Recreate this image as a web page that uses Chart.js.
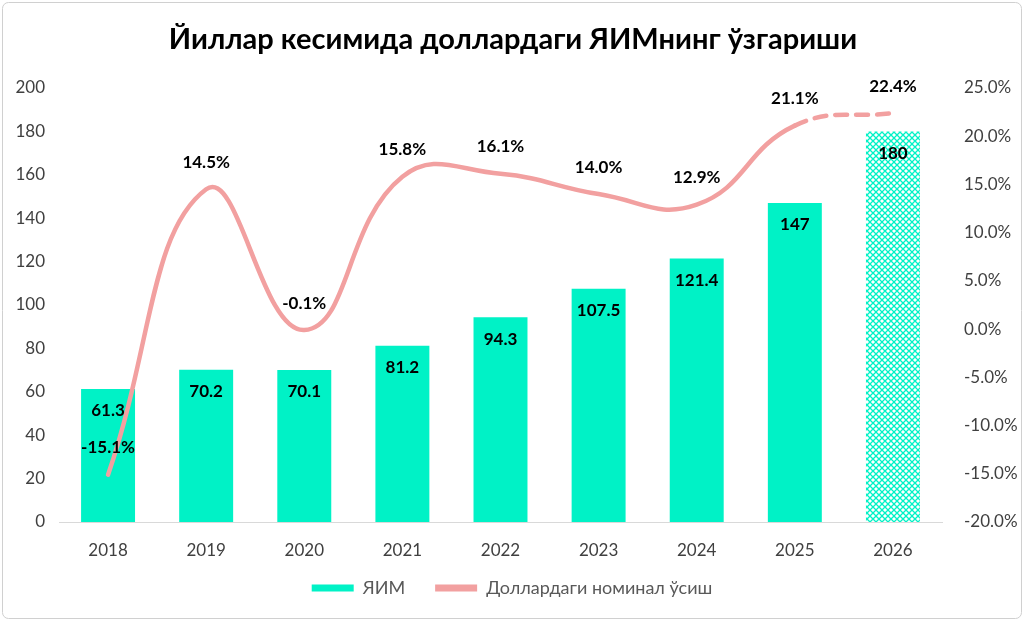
<!DOCTYPE html>
<html><head><meta charset="utf-8">
<script src="https://cdn.jsdelivr.net/npm/chart.js@4/dist/chart.umd.min.js"></script>
<style>html,body{margin:0;padding:0;background:#fff;}canvas{display:block;}</style>
</head><body>
<canvas id="c" width="1024" height="621"></canvas>
<script>
const titleText = 'Йиллар кесимида доллардаги ЯИМнинг ўзгариши';
const years = ['2018','2019','2020','2021','2022','2023','2024','2025','2026'];
const gdp = [61.3, 70.2, 70.1, 81.2, 94.3, 107.5, 121.4, 147, 180];
const growth = [-15.1, 14.5, -0.1, 15.8, 16.1, 14.0, 12.9, 21.1, 22.4];
const seriesNames = ['ЯИМ', 'Доллардаги номинал ўсиш'];

const FONT = 'Lato, "Liberation Sans", sans-serif';
const BAR = '#00F2C6';
const LINE = '#F2A0A0';

function makePattern(){
  const p = document.createElement('canvas');
  p.width = 6; p.height = 6;
  const g = p.getContext('2d');
  g.fillStyle = '#ffffff'; g.fillRect(0,0,6,6);
  g.strokeStyle = BAR; g.lineWidth = 1.3;
  g.beginPath();
  g.moveTo(0,0); g.lineTo(6,6);
  g.moveTo(6,0); g.lineTo(0,6);
  g.stroke();
  return document.getElementById('c').getContext('2d').createPattern(p,'repeat');
}
const pattern = makePattern();
const barColors = gdp.map((v,i)=> i === gdp.length-1 ? pattern : BAR);

const framePlugin = {
  id:'frame',
  afterLayout(chart){
    const lg = chart.legend;
    if (lg) { lg.top -= 13; lg.bottom -= 13; }
  },
  beforeDraw(chart){
    const ctx = chart.ctx;
    ctx.save();
    ctx.fillStyle = '#fff'; ctx.fillRect(0,0,chart.width,chart.height);
    ctx.strokeStyle = '#d0d0d0'; ctx.lineWidth = 1;
    ctx.beginPath();
    if (ctx.roundRect) ctx.roundRect(2.5,2.5,chart.width-5,chart.height-5,6); else ctx.rect(2.5,2.5,chart.width-5,chart.height-5);
    ctx.stroke();
    ctx.fillStyle = '#000';
    ctx.font = 'bold 29px ' + FONT;
    ctx.textAlign = 'center'; ctx.textBaseline = 'middle';
    ctx.fillText(titleText, 513, 40);
    ctx.restore();
  }
};

const labelPlugin = {
  id:'vlabels',
  afterDatasetsDraw(chart){
    const ctx = chart.ctx;
    ctx.save();
    ctx.fillStyle = '#000';
    ctx.font = 'bold 17px ' + FONT;
    ctx.textAlign = 'center'; ctx.textBaseline = 'middle';
    chart.getDatasetMeta(0).data.forEach((el,i)=>{
      ctx.fillText(String(gdp[i]), el.x, el.y + 22);
    });
    chart.getDatasetMeta(1).data.forEach((el,i)=>{
      ctx.fillText(growth[i].toFixed(1) + '%', el.x, el.y - 27);
    });
    ctx.restore();
  }
};

new Chart(document.getElementById('c'), {
  data:{
    labels: years,
    datasets:[
      {type:'bar', label:seriesNames[0], data:gdp, backgroundColor:barColors, borderWidth:0, yAxisID:'y', order:2,
       categoryPercentage:1, barPercentage:0.55},
      {type:'line', label:seriesNames[1], data:growth.map(v=>v/100), borderColor:LINE, backgroundColor:LINE, borderWidth:4.5,
       pointRadius:0, tension:0.45, yAxisID:'y1', order:1, borderCapStyle:'round',
       segment:{borderDash: c => c.p1DataIndex === growth.length-1 ? [12,9] : undefined}}
    ]
  },
  options:{
    responsive:false, animation:false,
    layout:{padding:{top:88, bottom:1, left:0, right:0}},
    plugins:{
      legend:{position:'bottom', labels:{font:{size:18, family:FONT}, color:'#595959', boxWidth:42, boxHeight:7, padding:30,
        generateLabels(chart){
          return [
            {text:seriesNames[0], fillStyle:BAR, strokeStyle:BAR, lineWidth:0, datasetIndex:0, fontColor:'#595959'},
            {text:seriesNames[1], fillStyle:LINE, strokeStyle:LINE, lineWidth:0, datasetIndex:1, fontColor:'#595959'}
          ];
        }}},
      tooltip:{enabled:false}
    },
    scales:{
      x:{grid:{display:false, drawTicks:false}, border:{color:'#d9d9d9', width:1},
         ticks:{font:{size:17, family:FONT}, color:'#404040', padding:18},
         afterFit(s){ s.height = 40; }},
      y:{position:'left', min:0, max:200, grid:{display:false, drawTicks:false}, border:{display:false},
         ticks:{stepSize:20, font:{size:17, family:FONT}, color:'#404040', padding:14},
         afterFit(s){ s.width = 59; }},
      y1:{position:'right', min:-0.2, max:0.25, grid:{display:false, drawTicks:false}, border:{display:false},
         ticks:{stepSize:0.05, font:{size:17, family:FONT}, color:'#404040', padding:22,
           callback:v=> (Math.round(v*1000)/10).toFixed(1)+'%'},
         afterFit(s){ s.width = 82; }}
    }
  },
  plugins:[framePlugin, labelPlugin]
});
</script>
</body></html>
